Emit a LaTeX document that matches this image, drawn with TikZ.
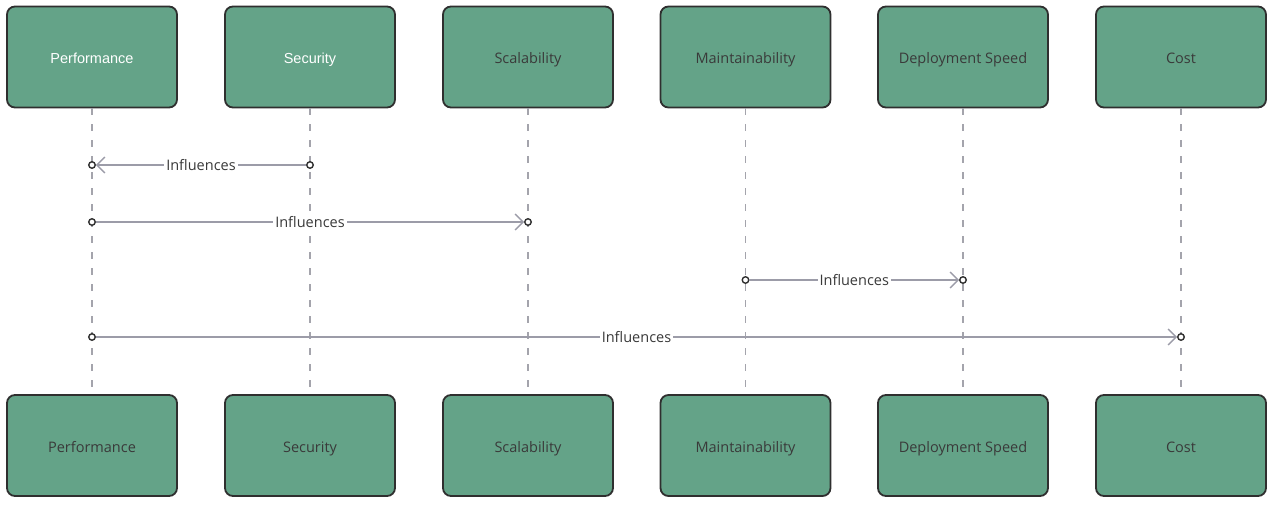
\documentclass[tikz,border=0pt]{standalone}
\usepackage{fontspec}
\setmainfont{Open Sans}
\newfontfamily\arialfont{Liberation Sans}
\usepackage{xcolor}
\definecolor{BoxGreen}{HTML}{64A388}
\definecolor{BoxBorder}{HTML}{2F2F2F}
\definecolor{LifeGray}{HTML}{A4A4AC}
\definecolor{MsgGray}{HTML}{9C9CA8}
\definecolor{TextDark}{HTML}{3A3A3A}
\usepackage{tikz}
\usetikzlibrary{arrows.meta, positioning}
\tikzset{
  % Box styles
  actorbox/.style={rectangle, rounded corners=8pt, draw=BoxBorder, line width=1.8pt, fill=BoxGreen, minimum width=170pt, minimum height=101pt, font=\fontsize{14.5}{16}\selectfont, text=TextDark, align=center, text height=14pt, text depth=0.5pt},
  whitebox/.style={actorbox, text=white, font=\arialfont\fontsize{14.5}{16}\selectfont},
  % Line styles
  lifeline/.style={LifeGray, line width=1.5pt, dash pattern=on 7pt off 9pt},
  msgarrow/.style={-{Straight Barb[length=8pt, width=16pt, line width=1.3pt]}, MsgGray, line width=1.5pt},
  % Node styles
  enddot/.style={circle, draw=BoxBorder, fill=white, line width=1.4pt, minimum size=6.5pt, inner sep=0pt},
  msglabel/.style={fill=white, inner sep=2pt, text=TextDark, font=\fontsize{14.5}{16}\selectfont}
}
\begin{document}
\begin{tikzpicture}[x=1pt, y=1pt]
  \useasboundingbox (0,0) rectangle (1275,506);

  % Top boxes
  \node[whitebox] (perfTop) at (92,449) {Performance};
  \node[whitebox] (secTop) at (310,449) {Security};
  \node[actorbox] (scalTop) at (528,449) {Scalability};
  \node[actorbox] (maintTop) at (745.5,449) {Maintainability};
  \node[actorbox] (deployTop) at (963,449) {Deployment Speed};
  \node[actorbox] (costTop) at (1181,449) {Cost};

  % Bottom boxes
  \node[actorbox] (perfBot) at (92,60.5) {Performance};
  \node[actorbox] (secBot) at (310,60.5) {Security};
  \node[actorbox] (scalBot) at (528,60.5) {Scalability};
  \node[actorbox] (maintBot) at (745.5,60.5) {Maintainability};
  \node[actorbox] (deployBot) at (963,60.5) {Deployment Speed};
  \node[actorbox] (costBot) at (1181,60.5) {Cost};

  % Lifelines
  \draw[lifeline] (perfTop) -- (perfBot);
  \draw[lifeline] (secTop) -- (secBot);
  \draw[lifeline] (scalTop) -- (scalBot);
  \draw[lifeline] (maintTop) -- (maintBot);
  \draw[lifeline] (deployTop) -- (deployBot);
  \draw[lifeline] (costTop) -- (costBot);

  % Message ends
  \node[enddot] (msgOneA) at (310,341) {};
  \node[enddot] (msgOneB) at (92,341) {};
  \node[enddot] (msgTwoA) at (92,284) {};
  \node[enddot] (msgTwoB) at (528,284) {};
  \node[enddot] (msgThreeA) at (745.5,226) {};
  \node[enddot] (msgThreeB) at (963,226) {};
  \node[enddot] (msgFourA) at (92,169) {};
  \node[enddot] (msgFourB) at (1181,169) {};

  % Messages
  \draw[msgarrow] (msgOneA) -- node[msglabel] {Influences} (msgOneB);
  \draw[msgarrow] (msgTwoA) -- node[msglabel] {Influences} (msgTwoB);
  \draw[msgarrow] (msgThreeA) -- node[msglabel] {Influences} (msgThreeB);
  \draw[msgarrow] (msgFourA) -- node[msglabel] {Influences} (msgFourB);
\end{tikzpicture}
\end{document}
